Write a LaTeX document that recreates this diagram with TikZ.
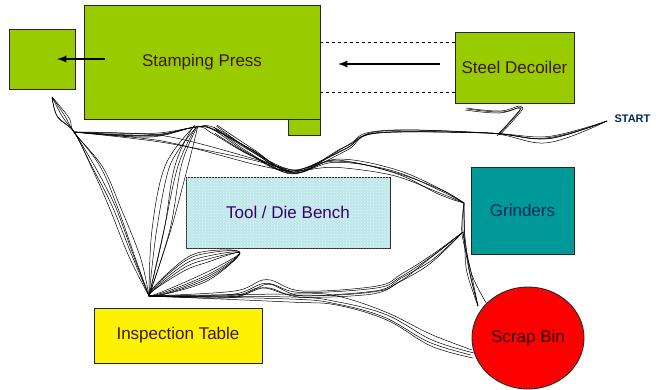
\documentclass[tikz,border=0pt]{standalone}
\usepackage{fontspec}
\setmainfont{Liberation Sans}
\usetikzlibrary{patterns,shapes.geometric}

\definecolor{pressgreen}{RGB}{153,204,0}
\definecolor{grindteal}{RGB}{0,153,153}
\definecolor{benchcyan}{RGB}{190,232,234}
\definecolor{labelbrown}{RGB}{60,25,0}
\definecolor{labelnavy}{RGB}{0,40,90}
\definecolor{labelpurple}{RGB}{60,0,110}

\tikzset{
  station/.style={draw=black!85, line width=0.9pt, inner sep=0pt,
    font=\fontsize{17}{20}\selectfont},
  trace/.style={draw=black, line width=0.5pt, line join=round},
  flow/.style={line width=2.2pt, -latex},
  dashline/.style={dashed, line width=0.7pt}
}
% random wobble for one strand
\newcommand{\wobble}{%
  \pgfmathsetmacro\ja{rand*2.5}\pgfmathsetmacro\jb{rand*2.5}%
  \pgfmathsetmacro\jc{rand*2.5}\pgfmathsetmacro\jd{rand*2.5}}

\begin{document}
\begin{tikzpicture}[x=1pt, y=-1pt]
  \useasboundingbox (0,0) rectangle (656,389);
  \pgfmathsetseed{11}

  % 1. Key points of the walking path
  \coordinate (hub)   at (149,296);
  \coordinate (spike) at (52,97);
  \coordinate (knee)  at (74,132);
  \coordinate (topA)  at (196,127);
  \coordinate (dip)   at (292,172);
  \coordinate (topR)  at (378,132);
  \coordinate (bandR) at (488,133);
  \coordinate (start) at (607,121);
  \coordinate (gcorn) at (464,203);
  \coordinate (gmid)  at (463,232);
  \coordinate (sbin)  at (478,306);

  % --- STEP 1: THE SPAGHETTI PATH ---

  % A. Top band: from START back to the press
  \foreach \dx/\dy/\t in {0/0/0.6, 2/1.5/0.5, -1/2.5/0.7, 1/-1.5/0.55, 0/3.5/0.6} {
    \wobble
    \draw[trace, shift={(\dx,\dy)}] plot[smooth, tension=\t] coordinates
      {(start) (547,137+\ja) (bandR) ([shift={(\jb,\jc)}]topR) (345+\jd,147)
       ([shift={(\ja,\jb)}]dip) (250+\jc,150+\jd) (213,128+\ja) (topA) (150+\jb,134+\jc) (knee)};
  }
  % small loop under the decoiler
  \foreach \dx/\dy in {0/0, 1.5/1, -1/2} {
    \draw[trace, shift={(\dx,\dy)}] plot[smooth, tension=0.7] coordinates
      {(498,134) (512,119) (521,106) (500,111) (466,108)};
  }
  % straight strands from the knee to the dip
  \foreach \dx/\dy in {0/0, 2/3, 4/-2} {
    \wobble
    \draw[trace, shift={(\dx,\dy)}] plot[smooth, tension=0.5] coordinates
      {(knee) (160+\ja,140+\jb) (248+\jc,160+\jd) (dip)};
  }

  % B. Middle band: towards the grinders
  \foreach \dx/\dy/\t in {0/0/0.6, 1.5/2/0.5, -1/3/0.7, 2/-1.5/0.6, 0/5/0.55} {
    \wobble
    \draw[trace, shift={(\dx,\dy)}] plot[smooth, tension=\t] coordinates
      {(215,126+\ja) (250+\jb,150) ([shift={(\jc,\jd)}]dip) (335,160+\ja) (393+\jb,170+\jc)
       (440,190+\jd) (gcorn)};
  }

  % C. Left loops down to the inspection table
  \foreach \dx/\dy/\t in {0/0/0.6, 3/1/0.5, 6/0/0.7, -2/1/0.6, 9/2/0.55} {
    \wobble
    \draw[trace, shift={(\dx,\dy)}] plot[smooth, tension=\t] coordinates
      {(spike) (58+\ja,116) (knee) (92+\jb,165) (110+\jc,205) (130+\jd,255) (hub)};
  }
  \foreach \dx/\t in {0/0.6, 5/0.5, 10/0.7, 16/0.6, 21/0.5, 13/0.65} {
    \wobble
    \draw[trace, shift={(\dx,0)}] plot[smooth, tension=\t] coordinates
      {([shift={(\ja,\jb)}]topA) (165+\jc,165) (152+\jd,230) (hub)};
  }

  % D. Right side: grinders to the scrap bin
  \foreach \dx/\dy in {0/0, 2/0, 4/1, -1/0} {
    \wobble
    \draw[trace, shift={(\dx,\dy)}] plot[smooth, tension=0.5] coordinates
      {(gcorn) ([shift={(\ja,\jb)}]gmid) (468+\jc,270) (sbin)};
  }
  \draw[trace] plot[smooth, tension=0.5] coordinates {(gmid) (472,275) (488,306)};

  % E. Lower return band
  \foreach \dx/\dy/\t in {0/0/0.6, 1/2.5/0.5, -1/4/0.7, 2/-2/0.6, 0/6/0.55} {
    \wobble
    \draw[trace, shift={(\dx,\dy)}] plot[smooth, tension=\t] coordinates
      {(gmid) (430+\ja,257) (400,278+\jb) (375+\jc,288) (300,291+\jd) (265+\ja,284+\jb)
       (232,293+\jc) (hub)};
  }
  \foreach \dx/\dy in {0/0, 2/3, -1/5, 1/8} {
    \wobble
    \draw[trace, shift={(\dx,\dy)}] plot[smooth, tension=0.6] coordinates
      {(hub) (290+\ja,294) (335,298+\jb) (385+\jc,312) (430,336+\jd) (472,350)};
  }

  % F. The fan next to the inspection table
  \foreach \a/\b in {0/0, -3/4, 3/-3, 6/6, -5/2} {
    \draw[trace] plot[smooth cycle, tension=0.6] coordinates
      {(hub) (182,266+\a) (208,256+\a) (240,253) (205,276+\b)};
  }

  % --- STEP 2: THE STATIONS ---
  \node[station, fill=pressgreen, minimum width=66pt, minimum height=60pt] (outbox) at (42,59) {};
  \node[station, fill=pressgreen, minimum width=236pt, minimum height=114pt,
        text=labelbrown] (press) at (202,62) {Stamping Press};
  \node[station, fill=pressgreen, minimum width=32pt, minimum height=16pt] (tab) at (304,127) {};
  \node[station, fill=pressgreen, minimum width=119pt, minimum height=71pt,
        text=labelbrown] (deco) at (514.5,67.5) {Steel Decoiler};
  \node[station, fill=benchcyan, minimum width=204pt, minimum height=71pt,
        postaction={pattern=crosshatch dots, pattern color=white!60!benchcyan},
        text=labelpurple] (bench) at (288,212.5) {Tool / Die Bench};
  \node[station, fill=grindteal, minimum width=103pt, minimum height=87pt,
        text=labelnavy] (grind) at (522.5,210.5) {Grinders};
  \node[station, ellipse, fill=red, minimum width=112pt, minimum height=102pt,
        text=black!85!red] (scrap) at (528,338) {Scrap Bin};
  \node[station, fill=yellow, minimum width=168pt, minimum height=55pt,
        text=labelbrown] (inspect) at (178,335.5) {Inspection Table};
  \node[font=\fontsize{11}{12}\selectfont\bfseries, text=labelnavy, anchor=west]
        (startlbl) at (611,119) {START};

  % --- STEP 3: MATERIAL FLOW ---
  \draw[dashline] (press.east |- 0,42) -- (deco.west |- 0,42);
  \draw[dashline] (press.east |- 0,92) -- (deco.west |- 0,92);
  \draw[flow] (440,64) -- (338,64);
  \draw[flow] (105,59) -- (57,59);
\end{tikzpicture}
\end{document}
